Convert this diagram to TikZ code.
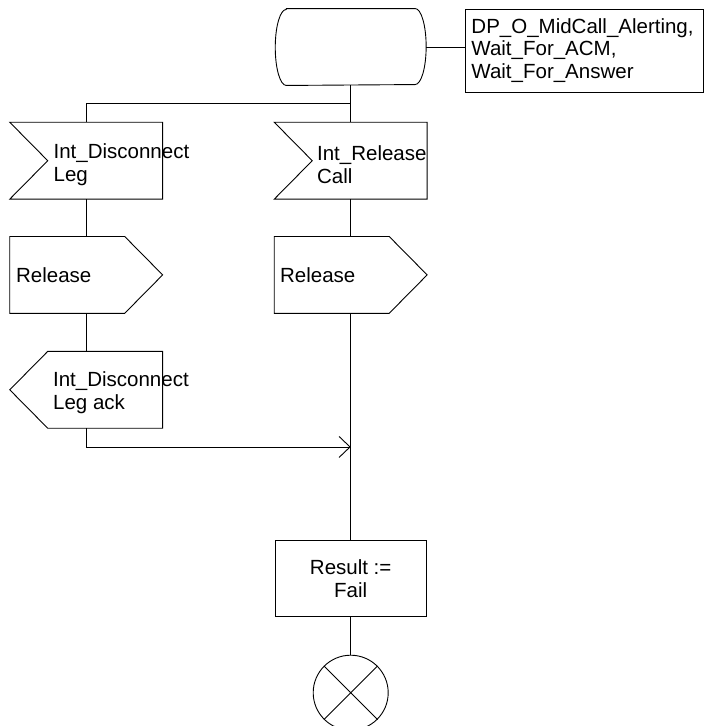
\documentclass[tikz,border=0pt]{standalone}
\usepackage{fontspec}
\setmainfont{Liberation Sans}
\usepackage{tikz}
\usetikzlibrary{positioning, arrows.meta}

% outlines of the SDL signal symbols, drawn round a named node
\newcommand{\sdlinborder}[1]{\draw (#1.north west) -- (#1.north east) -- (#1.south east) -- (#1.south west) -- ([xshift=38pt]#1.west) -- cycle;}
\newcommand{\sdloutborder}[1]{\draw (#1.north west) -- ([xshift=-38pt]#1.north east) -- (#1.east) -- ([xshift=-38pt]#1.south east) -- (#1.south west) -- cycle;}
\newcommand{\sdlbackborder}[1]{\draw ([xshift=38pt]#1.north west) -- (#1.north east) -- (#1.south east) -- ([xshift=38pt]#1.south west) -- (#1.west) -- cycle;}

\begin{document}
\begin{tikzpicture}[x=1pt, y=-1pt, line width=0.9pt,
    every node/.style={font=\fontsize{20.5}{22.7}\selectfont},
    sdlstate/.style={minimum width=150pt, minimum height=76pt, inner sep=0pt},
    sdlsignal/.style={minimum width=152pt, minimum height=76pt, inner sep=0pt},
    sdltask/.style={draw, minimum width=151pt, minimum height=76pt, inner sep=0pt, align=center},
    sdlstop/.style={draw, circle, minimum size=75pt, inner sep=0pt},
    sdllabel/.style={anchor=west, align=left, inner sep=0pt}]
        \useasboundingbox (0,0) rectangle (704,726);
        % state and comment
        \node[sdlstate] (state) at (350.7,47) {};
        \draw ([xshift=11pt]state.north west) -- ([xshift=-11pt]state.north east)
            arc[start angle=90, end angle=-90, x radius=11pt, y radius=38pt]
            -- ([xshift=11pt]state.south west)
            arc[start angle=270, end angle=90, x radius=11pt, y radius=38pt] -- cycle;
        \node[draw, anchor=west, minimum height=83pt, text width=226pt, inner xsep=6pt, inner ysep=0pt, align=left] (note) at (465,50.5) {DP\_O\_MidCall\_Alerting,\\Wait\_For\_ACM,\\Wait\_For\_Answer};
        \draw (state.east) -- (state.east -| note.west);
        % inputs
        \node[sdlsignal] (leginput) at (86.2,160.7) {};
        \node[sdlsignal] (callinput) at (350.7,160.7) {};
        \sdlinborder{leginput}
        \sdlinborder{callinput}
        \node[sdllabel] (leglabel) at ([xshift=-33pt, yshift=-4pt]leginput.center) {Int\_Disconnect\\Leg};
        \node[sdllabel] (calllabel) at ([xshift=-34pt, yshift=-4pt]callinput.center) {Int\_Release\\Call};
        % outputs
        \node[sdlsignal, below=37.3pt of leginput] (legrelease) {};
        \node[sdlsignal, below=37.3pt of callinput] (callrelease) {};
        \sdloutborder{legrelease}
        \sdloutborder{callrelease}
        \node[sdllabel] (legrellabel) at ([xshift=-70.5pt]legrelease.center) {Release};
        \node[sdllabel] (callrellabel) at ([xshift=-71pt]callrelease.center) {Release};
        \node[sdlsignal, below=38pt of legrelease] (legack) {};
        \sdlbackborder{legack}
        \node[sdllabel] (acklabel) at ([xshift=-33.5pt, yshift=-3pt]legack.center) {Int\_Disconnect\\Leg ack};
        % result and stop
        \node[sdltask, below=227pt of callrelease] (result) {Result :=\\Fail};
        \node[sdlstop, below=37.5pt of result] (stop) {};
        % connectors
        \path (callinput.north) ++(0,-18.4) coordinate (fork);
        \path (legack.south) ++(0,18.7) coordinate (ackturn);
        \draw (state.south) -- (callinput.north);
        \draw (fork) -| (leginput.north);
        \draw (leginput.south) -- (legrelease.north);
        \draw (legrelease.south) -- (legack.north);
        \draw (callinput.south) -- (callrelease.north);
        \draw[-{Straight Barb[length=11pt, width=21pt]}] (legack.south) -- (ackturn) -- (ackturn -| result.north);
        \draw (callrelease.south) -- (result.north);
        \draw (result.south) -- (stop.north);
        \draw (stop.north west) -- (stop.south east) (stop.north east) -- (stop.south west);
      \end{tikzpicture}
\end{document}
